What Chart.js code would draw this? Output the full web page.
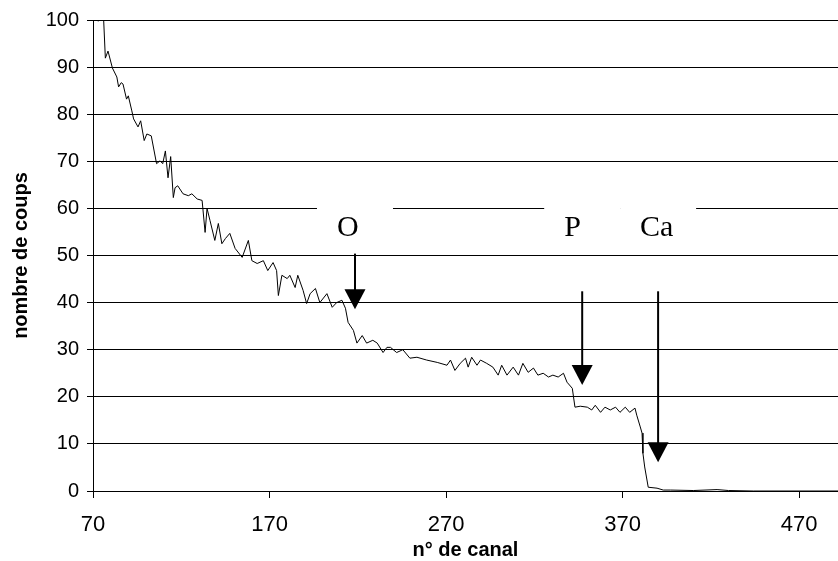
<!DOCTYPE html>
<html>
<head>
<meta charset="utf-8">
<script src="https://cdn.jsdelivr.net/npm/chart.js@4"></script>
<style>
  body { margin: 0; background: #fff; }
  #wrap { width: 838px; height: 561px; }
</style>
</head>
<body>
<div id="wrap"><canvas id="spectre"></canvas></div>
<script>
var canaux = [73, 74, 76, 77, 78.5, 81, 83.5, 84.5, 86, 87, 89, 90, 92, 93, 95.5, 97, 99, 100.5, 103, 106,
  108, 109.5, 111, 112.5, 114, 115.5, 116.5, 118, 121, 124, 126, 129, 131.8, 133.5, 134.6, 136.3, 139, 141, 143, 145,
  147.5, 150.5, 154.5, 158, 160, 163, 166.5, 169, 172, 174, 175, 177, 180, 181.5, 184.5, 186, 189, 191, 193, 196,
  198.5, 202.5, 205.5, 208, 211, 213, 214.5, 217.5, 219.5, 222.5, 225, 228.5, 231, 234.3, 236.5, 238.5, 242, 245.5, 249.5, 253.5,
  259, 265, 270.5, 272.5, 275, 278, 281, 282.5, 284.5, 287.5, 289.5, 293, 296.5, 299.5, 301.5, 304.5, 308, 311, 313.5, 316.5,
  319.5, 322, 325, 328, 330.5, 333.5, 336.5, 338.5, 341.5, 343, 346, 350, 352.5, 354.5, 357.5, 360, 363, 366, 368.5, 371.5,
  374, 377, 378, 380, 381, 381.5, 382.5, 384.5, 389.5, 393, 397, 410, 423.5, 430, 444, 492];
var coups = [99.7, 100.3, 100.3, 91.9, 93.4, 89.8, 87.9, 85.8, 86.7, 86.4, 83.2, 83.9, 80.7, 79, 77.3, 78.6, 74.4, 75.8, 75.4, 69.5,
  70.1, 69.5, 72.2, 66.5, 71, 62.3, 64.4, 64.8, 63.1, 62.7, 63.1, 62, 61.7, 54.9, 60, 57.4, 53.2, 56.8, 52.5, 53.6,
  54.7, 51.5, 49.6, 53.2, 48.9, 48.3, 48.9, 46.8, 48.5, 46.8, 41.5, 45.8, 45.1, 45.8, 43.2, 45.8, 42.6, 39.8, 41.9, 43,
  40, 41.9, 39, 40, 40.5, 38.8, 35.8, 34.1, 31.4, 33, 31.4, 32, 31.4, 29.4, 30.5, 30.5, 29.4, 30, 28.2, 28.4,
  27.8, 27.3, 26.7, 27.8, 25.6, 27.1, 28.2, 26.3, 28.4, 26.7, 27.8, 27.1, 26.3, 24.6, 26.7, 24.6, 26.3, 24.6, 27.1, 25.2,
  26.1, 24.6, 25, 24.2, 24.6, 24.2, 25, 23.1, 21.8, 17.8, 18, 17.8, 17.2, 18.2, 16.7, 17.8, 17.2, 17.8, 16.7, 17.8,
  16.7, 17.6, 16.1, 13.6, 12.3, 8, 5.1, 0.8, 0.6, 0.2, 0.2, 0.1, 0.3, 0.1, 0, 0];

var xTicks = [70, 170, 270, 370, 470];

// pics reperes
var picNoms = ['O', 'P', 'Ca'];
var picCanaux = [218.4, 347.1, 390.1];
var flecheHaut = [50.4, 42.4, 42.4];
var flecheBas = [38.6, 22.5, 6.1];

var points = [];
for (let i = 0; i < canaux.length; i++) {
  points.push({x: canaux[i], y: coups[i]});
}

var pics = {
  id: 'pics',
  beforeDatasetsDraw: function (chart) {
    var ctx = chart.ctx;
    var xs = chart.scales.x, ys = chart.scales.y;
    var yTexte = ys.getPixelForValue(56);
    ctx.save();
    for (let i = 0; i < picNoms.length; i++) {
      var px = xs.getPixelForValue(picCanaux[i]);
      ctx.fillStyle = '#fff';
      ctx.fillRect(px - 38, yTexte - 30, 76, 53);
    }
    ctx.fillStyle = '#000';
    ctx.font = '30px "Liberation Serif", "Times New Roman", serif';
    ctx.textAlign = 'left';
    ctx.textBaseline = 'middle';
    for (let i = 0; i < picNoms.length; i++) {
      var px = xs.getPixelForValue(picCanaux[i]);
      ctx.fillText(picNoms[i], px - 18, yTexte + 1);
    }
    ctx.restore();
  },
  afterDatasetsDraw: function (chart) {
    var ctx = chart.ctx;
    var xs = chart.scales.x, ys = chart.scales.y;
    ctx.save();
    ctx.strokeStyle = '#000';
    ctx.fillStyle = '#000';
    ctx.lineWidth = 2;
    for (let i = 0; i < picNoms.length; i++) {
      var px = xs.getPixelForValue(picCanaux[i]);
      var y1 = ys.getPixelForValue(flecheHaut[i]);
      var y2 = ys.getPixelForValue(flecheBas[i]);
      ctx.beginPath();
      ctx.moveTo(px, y1);
      ctx.lineTo(px, y2 - 18);
      ctx.stroke();
      ctx.beginPath();
      ctx.moveTo(px - 10.5, y2 - 20);
      ctx.lineTo(px + 10.5, y2 - 20);
      ctx.lineTo(px, y2);
      ctx.closePath();
      ctx.fill();
    }
    ctx.restore();
  }
};

var police = "'Liberation Sans', Arial, sans-serif";

new Chart(document.getElementById('spectre'), {
  type: 'line',
  data: {
    datasets: [{
      data: points,
      borderColor: '#000',
      borderWidth: 1,
      pointRadius: 0,
      tension: 0,
      fill: false
    }]
  },
  options: {
    responsive: true,
    maintainAspectRatio: false,
    animation: false,
    layout: { padding: { top: 19, right: 0, left: 0, bottom: 0 } },
    plugins: { legend: { display: false }, tooltip: { enabled: false } },
    scales: {
      x: {
        type: 'linear',
        min: 70,
        max: 492,
        afterBuildTicks: function (axis) {
          axis.ticks = xTicks.map(function (v) { return {value: v}; });
        },
        afterFit: function (axis) { axis.height = 70; },
        grid: { drawOnChartArea: false, drawTicks: true, tickLength: 7, color: '#000' },
        border: { color: '#000', width: 1 },
        ticks: { color: '#000', font: { family: police, size: 22 }, padding: 14, maxRotation: 0 },
        title: {
          display: true,
          text: 'n° de canal',
          color: '#000',
          font: { family: police, size: 20, weight: 'bold', lineHeight: 1 },
          padding: { top: 0, bottom: 1 }
        }
      },
      y: {
        min: 0,
        max: 100,
        afterFit: function (axis) { axis.width = 93; },
        grid: { color: '#000', lineWidth: 1, tickLength: 6 },
        border: { color: '#000', width: 1 },
        ticks: { stepSize: 10, color: '#000', font: { family: police, size: 20 }, padding: 8 },
        title: {
          display: true,
          text: 'nombre de coups',
          color: '#000',
          font: { family: police, size: 20, weight: 'bold', lineHeight: 1 },
          padding: { top: 11, bottom: 0 }
        }
      }
    }
  },
  plugins: [pics]
});
</script>
</body>
</html>
